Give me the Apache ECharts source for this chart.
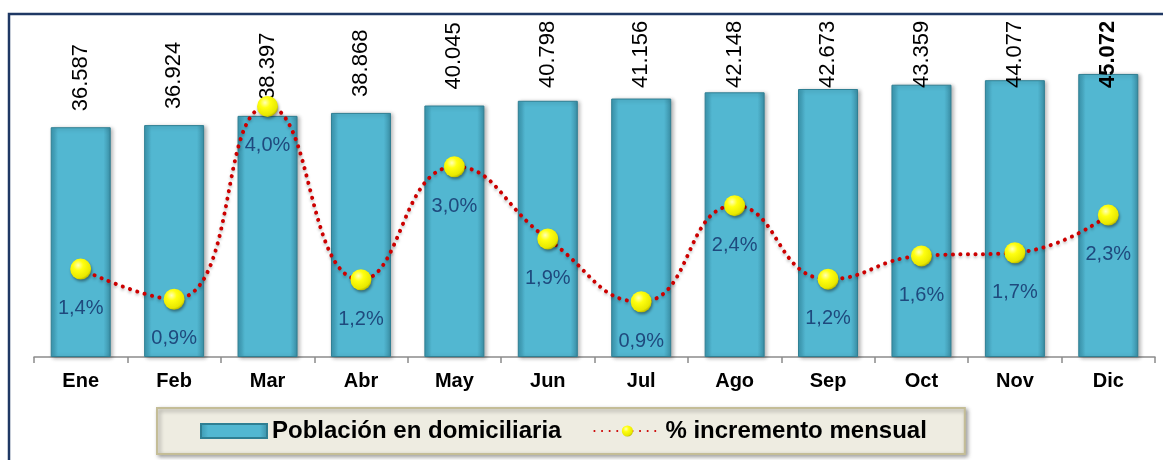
<!DOCTYPE html>
<html>
<head>
<meta charset="utf-8">
<script src="https://cdn.jsdelivr.net/npm/echarts@6/dist/echarts.min.js"></script>
<style>
html,body{margin:0;padding:0;background:#fff;}
#chart{width:1163px;height:460px;}
</style>
</head>
<body>
<div id="chart"></div>
<script>
const meses = ['Ene','Feb','Mar','Abr','May','Jun','Jul','Ago','Sep','Oct','Nov','Dic'];
const poblacion = [36587,36924,38397,38868,40045,40798,41156,42148,42673,43359,44077,45072];
const incremento = [1.40,0.92,3.99,1.23,3.03,1.88,0.88,2.41,1.24,1.61,1.66,2.26];

(function(){
    let myChart = echarts.init(document.getElementById('chart'));
    const font = "'Liberation Sans', Arial, sans-serif";

    const barColor = new echarts.graphic.LinearGradient(0,0,1,0,[
        {offset:0, color:'#3b98b1'},
        {offset:0.12, color:'#52b7d1'},
        {offset:0.88, color:'#52b7d1'},
        {offset:1, color:'#3a8ea5'}
    ]);
    const ball = new echarts.graphic.RadialGradient(0.38,0.32,0.7,[
        {offset:0, color:'#ffffb8'},
        {offset:0.35, color:'#ffff10'},
        {offset:0.85, color:'#e8e800'},
        {offset:1, color:'#b8b800'}
    ]);

    let barData = poblacion.map(function(v,i){
        if (i === poblacion.length-1) {
            return {value:v, label:{fontWeight:'bold'}};
        }
        return v;
    });

    let options = {
        animation:false,
        textStyle:{fontFamily:font},
        graphic:[{
            type:'rect',
            shape:{x:9,y:14,width:1200,height:500},
            style:{fill:'none',stroke:'#1f3864',lineWidth:2.5},
            silent:true
        }],
        legend:{
            left:157,
            top:408,
            padding:[11,38,11,43],
            itemGap:32,
            itemWidth:66,
            itemHeight:14,
            backgroundColor:'#eeece1',
            borderColor:'#c4bd97',
            borderWidth:2,
            shadowColor:'rgba(0,0,0,0.35)',
            shadowBlur:4,
            shadowOffsetX:2,
            shadowOffsetY:2,
            textStyle:{fontFamily:font,fontSize:24,fontWeight:'bold',color:'#000'},
            data:[{name:'Población en domiciliaria',icon:'rect'},{name:'% incremento mensual'}]
        },
        grid:{left:34,right:8,top:43,bottom:103},
        xAxis:{
            type:'category',
            data:meses,
            axisLine:{lineStyle:{color:'#8c8c8c',width:1.5}},
            axisTick:{show:true,length:6,lineStyle:{color:'#8c8c8c',width:1.5}},
            axisLabel:{color:'#000',fontSize:20,fontWeight:'bold',fontFamily:font,margin:14}
        },
        yAxis:[
            {type:'value',min:0,max:50000,show:false,splitLine:{show:false}},
            {type:'value',min:0,max:5,show:false,splitLine:{show:false}}
        ],
        series:[{
            name:'Población en domiciliaria',
            type:'bar',
            data:barData,
            barWidth:60,
            itemStyle:{
                color:barColor,
                borderColor:'#2f7f93',
                borderWidth:1,
                shadowColor:'rgba(0,0,0,0.3)',
                shadowBlur:4,
                shadowOffsetX:2,
                shadowOffsetY:1
            },
            label:{
                show:true,
                position:'top',
                distance:16,
                rotate:90,
                align:'left',
                verticalAlign:'middle',
                fontSize:22,
                color:'#000',
                fontFamily:font,
                formatter:function(p){
                    return String(p.value).replace(/(\d+)(\d{3})$/,'$1.$2');
                }
            },
            labelLayout:function(p){
                return {y:Math.max(p.rect.y-16,88)};
            }
        },{
            name:'% incremento mensual',
            type:'line',
            yAxisIndex:1,
            data:incremento,
            smooth:true,
            z:5,
            symbol:'circle',
            symbolSize:21,
            itemStyle:{
                color:ball,
                shadowColor:'rgba(0,0,0,0.4)',
                shadowBlur:3,
                shadowOffsetX:1,
                shadowOffsetY:2
            },
            lineStyle:{
                color:'#cc0000',
                width:4,
                type:[0.1,7.5],
                cap:'round',
                shadowColor:'rgba(0,0,0,0.25)',
                shadowBlur:3,
                shadowOffsetY:2
            },
            label:{
                show:true,
                position:'bottom',
                distance:19,
                fontSize:20,
                color:'#1f497d',
                fontFamily:font,
                formatter:function(p){
                    return p.value.toFixed(1).replace('.',',')+'%';
                }
            }
        }]
    };
    myChart.setOption(options);
})();
</script>
</body>
</html>
